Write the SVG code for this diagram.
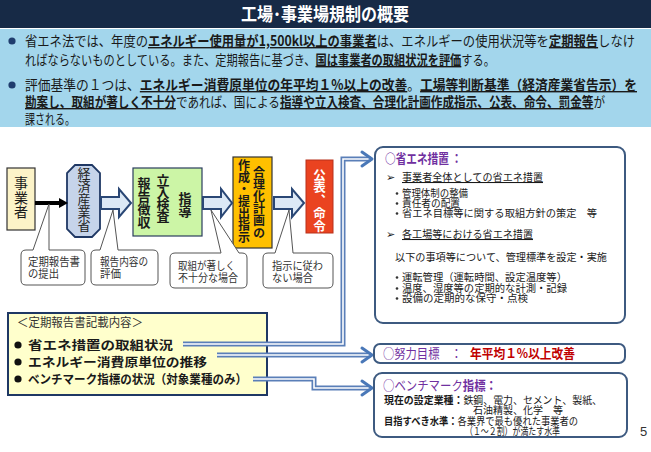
<svg xmlns="http://www.w3.org/2000/svg" width="651" height="452" viewBox="0 0 651 452">
<style>
text{font-family:"Noto Sans CJK JP","Noto Sans CJK SC",sans-serif;fill:#1a1a1a}
.band{font-size:14px}
.b{font-weight:700}
.bu{font-weight:700;text-decoration:underline}
.v{writing-mode:vertical-rl}
.cal{fill:#fff;stroke:#555;stroke-width:1}
.calt{font-size:11px;fill:#333}
.blk{fill:#dce8f5;stroke:#2a4775;stroke-width:2;stroke-linejoin:miter}
.rb{fill:#fff;stroke:#3d5a80;stroke-width:2}
.s{font-size:10.5px}
.pur{fill:#7030a0}
.dot{fill:#333}
.conO{fill:none;stroke:#5a7fb8;stroke-width:5}
.conI{fill:none;stroke:#fff;stroke-width:1.6}
.ah{fill:none;stroke:#4a78b8;stroke-width:3;stroke-linecap:round;stroke-linejoin:round}
</style>

<g id="header">
<rect x="0" y="0" width="651" height="28" fill="#172a46"/>
<text x="241" y="21" style="font-size:18px;font-weight:700;fill:#fff" textLength="168" lengthAdjust="spacingAndGlyphs">工場･事業場規制の概要</text>
</g>

<g id="summary">
<rect x="0" y="29" width="651" height="98" fill="#a3d6ec"/>
<circle cx="12" cy="41" r="3.6" fill="#1f3d6e"/>
<circle cx="12" cy="85" r="3.6" fill="#1f3d6e"/>
<text class="band" x="25" y="46" textLength="610" lengthAdjust="spacingAndGlyphs">省エネ法では、年度の<tspan class="bu">エネルギー使用量が1,500kl以上の事業者</tspan>は、エネルギーの使用状況等を<tspan class="bu">定期報告</tspan>しなけ</text>
<text class="band" x="25" y="65" textLength="470" lengthAdjust="spacingAndGlyphs">ればならないものとしている。また、定期報告に基づき、<tspan class="bu">国は事業者の取組状況を評価</tspan>する。</text>
<text class="band" x="25" y="90" textLength="612" lengthAdjust="spacingAndGlyphs">評価基準の１つは、<tspan class="bu">エネルギー消費原単位の年平均１%以上の改善</tspan>。<tspan class="bu">工場等判断基準（経済産業省告示）を</tspan></text>
<text class="band" x="25" y="107" textLength="580" lengthAdjust="spacingAndGlyphs"><tspan class="bu">勘案し、取組が著しく不十分</tspan>であれば、国による<tspan class="bu">指導や立入検査、合理化計画作成指示、公表、命令、罰金等</tspan>が</text>
<text class="band" x="25" y="124" textLength="50" lengthAdjust="spacingAndGlyphs">課される。</text>
</g>

<g id="n-jigyosha">
<rect x="7" y="168" width="28" height="62" fill="#fcf3c8" stroke="#333" stroke-width="1.2"/>
<text class="v" x="21" y="176" style="font-size:14px;letter-spacing:0.5px">事業者</text>
</g>

<g id="n-meti">
<path d="M75 165 H92 L100 173 V229 L92 237 H75 L67 229 V173 Z" fill="#c6d4ea" stroke="#1f3864" stroke-width="1.8"/>
<text class="v" x="84" y="166.5" style="font-size:13px;fill:#222">経済産業省</text>
</g>

<g id="n-shido">
<rect x="133" y="168" width="69" height="68" fill="#ccf5a6" stroke="#2a3d5e" stroke-width="1.2"/>
<text class="v b" x="185" y="191.5" style="font-size:13px">指導</text>
<text class="v b" x="163" y="174" style="font-size:13px;letter-spacing:-1px">立入検査</text>
<text class="v b" x="144" y="176.5" style="font-size:13px">報告徴収</text>
</g>

<g id="n-gorika">
<rect x="233" y="157" width="39" height="91" fill="#ffc000" stroke="#333" stroke-width="1.2"/>
<text class="v b" x="259" y="166" style="font-size:12px;letter-spacing:0.2px">合理化計画の</text>
<text class="v b" x="244" y="159" style="font-size:12px">作成・提出指示</text>
</g>

<g id="n-kohyo">
<rect x="306" y="160" width="27" height="73" fill="#ea4320" stroke="#b8301a" stroke-width="1"/>
<text class="v b" x="319.5" y="168.5" style="font-size:12.5px;letter-spacing:0.3px;fill:#fff">公表、命令</text>
</g>

<g id="flow-arrows">
<line x1="35" y1="203" x2="61" y2="203" stroke="#000" stroke-width="4"/>
<path d="M59 198 L68 203 L59 208 Z" fill="#000"/>
<path class="blk" d="M101 197 H119 V189 L131 203 L119 217 V209 H101 Z"/>
<path class="blk" d="M203 197 H221 V189 L232 203 L221 217 V209 H203 Z"/>
<path class="blk" d="M274 197 H292 V189 L304 203 L292 217 V209 H274 Z"/>
</g>

<g id="callouts">
<path class="cal" d="M26 250 H33 L49 204 V250 H80 Q85 250 85 255 V280 Q85 285 80 285 H26 Q21 285 21 280 V255 Q21 250 26 250 Z"/>
<text class="calt" x="28" y="266" textLength="52" lengthAdjust="spacingAndGlyphs">定期報告書</text>
<text class="calt" x="28" y="278" textLength="31" lengthAdjust="spacingAndGlyphs">の提出</text>
<path class="cal" d="M96 250 H100 L113 210 L118 250 H153 Q158 250 158 255 V280 Q158 285 153 285 H96 Q91 285 91 280 V255 Q91 250 96 250 Z"/>
<text class="calt" x="100" y="266" textLength="48" lengthAdjust="spacingAndGlyphs">報告内容の</text>
<text class="calt" x="100" y="278" textLength="21" lengthAdjust="spacingAndGlyphs">評価</text>
<path class="cal" d="M175 253 H221 L211 210 L239 253 H242 Q247 253 247 258 V283 Q247 288 242 288 H175 Q170 288 170 283 V258 Q170 253 175 253 Z"/>
<text class="calt" x="178" y="270" textLength="57" lengthAdjust="spacingAndGlyphs">取組が著しく</text>
<text class="calt" x="178" y="282" textLength="60" lengthAdjust="spacingAndGlyphs">不十分な場合</text>
<path class="cal" d="M268 253 H275 L289 210 L293 253 H328 Q333 253 333 258 V283 Q333 288 328 288 H268 Q263 288 263 283 V258 Q263 253 268 253 Z"/>
<text class="calt" x="272" y="270" textLength="51" lengthAdjust="spacingAndGlyphs">指示に従わ</text>
<text class="calt" x="272" y="282" textLength="41" lengthAdjust="spacingAndGlyphs">ない場合</text>
</g>

<g id="n-report">
<rect x="8" y="313" width="259" height="82" fill="#ffffcc" stroke="#1f3864" stroke-width="2"/>
<text x="17" y="327" style="font-size:12px;fill:#333" textLength="126" lengthAdjust="spacingAndGlyphs">＜定期報告書記載内容＞</text>
<circle cx="18" cy="345" r="3.6" fill="#111"/>
<circle cx="18" cy="362" r="3.6" fill="#111"/>
<circle cx="18" cy="379" r="3.6" fill="#111"/>
<text class="b" x="28" y="349.5" style="font-size:12.5px" textLength="145" lengthAdjust="spacingAndGlyphs">省エネ措置の取組状況</text>
<text class="b" x="28" y="366.5" style="font-size:12.5px" textLength="179" lengthAdjust="spacingAndGlyphs">エネルギー消費原単位の推移</text>
<text class="b" x="28" y="383.5" style="font-size:12.5px" textLength="219" lengthAdjust="spacingAndGlyphs">ベンチマーク指標の状況（対象業種のみ）</text>
</g>

<g id="connectors">
<path class="conO" d="M183 344 H343 V159 H371"/>
<path class="conI" d="M183 344 H343 V159 H371"/>
<path class="conO" d="M217 355 H371"/>
<path class="conI" d="M217 355 H371"/>
<path class="conO" d="M253 379 H314 V388 H371"/>
<path class="conI" d="M253 379 H314 V388 H371"/>
<path class="ah" d="M362 152 L372 159 L362 166"/>
<path class="ah" d="M362 348 L372 355 L362 362"/>
<path class="ah" d="M362 381 L372 388 L362 395"/>
</g>

<g id="n-measures">
<rect class="rb" x="375" y="147" width="250" height="176" rx="8"/>
<text class="pur b" x="385" y="163" style="font-size:13px" textLength="77" lengthAdjust="spacingAndGlyphs">○省エネ措置 ：</text>
<text class="s" x="386" y="181">➢</text>
<text class="s" x="402" y="181" style="text-decoration:underline" textLength="141" lengthAdjust="spacingAndGlyphs">事業者全体としての省エネ措置</text>
<circle class="dot" cx="397" cy="193.5" r="1.3"/>
<text class="s" x="402" y="197" textLength="66" lengthAdjust="spacingAndGlyphs">管理体制の整備</text>
<circle class="dot" cx="397" cy="203.5" r="1.3"/>
<text class="s" x="402" y="207" textLength="58" lengthAdjust="spacingAndGlyphs">責任者の配置</text>
<circle class="dot" cx="397" cy="213.5" r="1.3"/>
<text class="s" x="402" y="217" textLength="195" lengthAdjust="spacingAndGlyphs">省エネ目標等に関する取組方針の策定　等</text>
<text class="s" x="386" y="238">➢</text>
<text class="s" x="402" y="238" style="text-decoration:underline" textLength="131" lengthAdjust="spacingAndGlyphs">各工場等における省エネ措置</text>
<text class="s" x="395" y="261" textLength="212" lengthAdjust="spacingAndGlyphs">以下の事項等について、管理標準を設定・実施</text>
<circle class="dot" cx="397" cy="277.5" r="1.3"/>
<text class="s" x="402" y="281" textLength="165" lengthAdjust="spacingAndGlyphs">運転管理（運転時間、設定温度等）</text>
<circle class="dot" cx="397" cy="288.5" r="1.3"/>
<text class="s" x="402" y="292" textLength="165" lengthAdjust="spacingAndGlyphs">温度、湿度等の定期的な計測・記録</text>
<circle class="dot" cx="397" cy="298.5" r="1.3"/>
<text class="s" x="402" y="302" textLength="126" lengthAdjust="spacingAndGlyphs">設備の定期的な保守・点検</text>
</g>

<g id="n-target">
<rect class="rb" x="374" y="344" width="251" height="19" rx="6"/>
<text class="pur" x="383" y="358" style="font-size:13px" textLength="79" lengthAdjust="spacingAndGlyphs">○努力目標　：</text>
<text class="b" x="470" y="358" style="font-size:13px;fill:#c00000" textLength="105" lengthAdjust="spacingAndGlyphs">年平均１%以上改善</text>
</g>

<g id="n-benchmark">
<rect class="rb" x="374" y="373" width="253" height="64" rx="8"/>
<text class="pur" x="383" y="390" style="font-size:13px" textLength="114" lengthAdjust="spacingAndGlyphs">○ベンチマーク<tspan class="b">指標：</tspan></text>
<text class="s" x="384" y="404" textLength="218" lengthAdjust="spacingAndGlyphs"><tspan class="b">現在の設定業種：</tspan>鉄鋼、電力、セメント、製紙、</text>
<text class="s" x="473" y="414" textLength="90" lengthAdjust="spacingAndGlyphs">石油精製、化学　等</text>
<text class="s" x="384" y="425" textLength="194" lengthAdjust="spacingAndGlyphs"><tspan class="b">目指すべき水準：</tspan>各業界で最も優れた事業者の</text>
<text class="s" x="465" y="434.5" textLength="95" lengthAdjust="spacingAndGlyphs">（１～２割）が満たす水準</text>
</g>

<text x="640" y="436" style="font-family:'Liberation Sans',sans-serif;font-size:13px;fill:#333">5</text>
</svg>
